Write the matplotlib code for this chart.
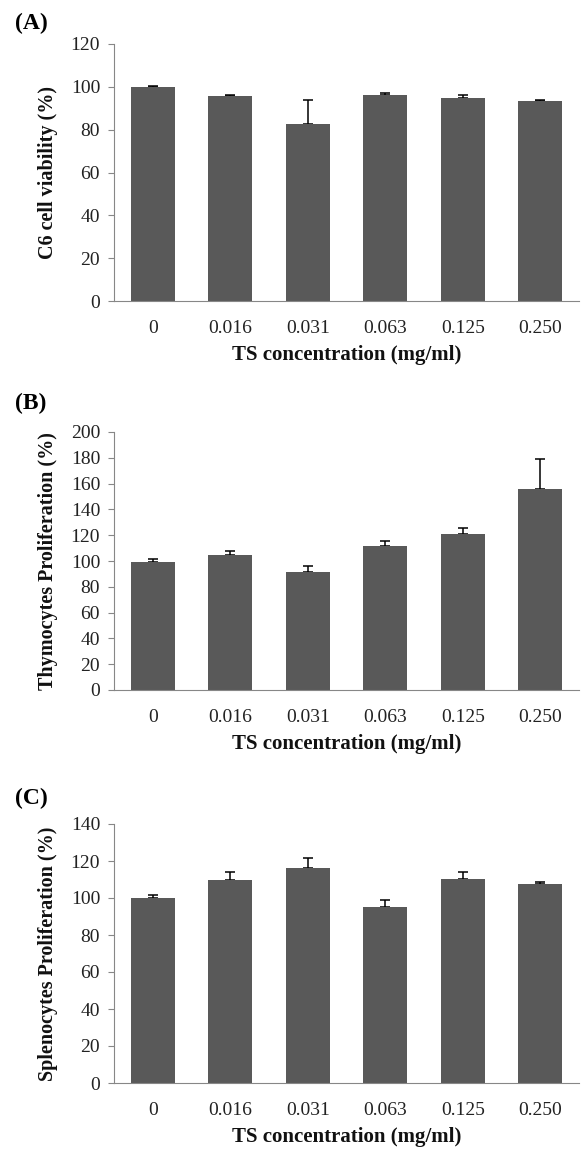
import matplotlib
matplotlib.use("Agg")
import matplotlib.pyplot as plt

plt.rcParams['font.family'] = ['Liberation Serif', 'DejaVu Serif']

conc = ["0", "0.016", "0.031", "0.063", "0.125", "0.250"]

# (A) C6 cell viability
viab = [99.8, 95.7, 82.5, 96.4, 94.7, 93.2]
viab_err = [0.5, 0.4, 11.3, 0.5, 1.4, 0.6]

# (B) thymocytes proliferation
thym = [99.6, 105.0, 91.3, 112.0, 121.3, 156.0]
thym_err = [2.1, 2.4, 4.9, 3.7, 3.9, 23.0]

# (C) splenocytes proliferation
sple = [100.1, 109.5, 116.3, 95.4, 110.5, 107.8]
sple_err = [1.4, 4.7, 5.4, 3.4, 3.7, 0.6]

panels = [
    ("(A)", viab, viab_err, "C6 cell viability (%)", 120, 20, 44, 301, 23),
    ("(B)", thym, thym_err, "Thymocytes Proliferation (%)", 200, 20, 432, 690, 403),
    ("(C)", sple, sple_err, "Splenocytes Proliferation (%)", 140, 20, 824, 1083, 798),
]

W, H = 583, 1152
fig = plt.figure(figsize=(W / 100, H / 100), dpi=100)

left, right = 114, 579
for tag, vals, errs, ylab, ymax, step, top, bottom, tag_y in panels:
    ax = fig.add_axes([left / W, 1 - bottom / H, (right - left) / W, (bottom - top) / H])
    x = range(len(conc))
    ax.bar(x, vals, width=0.57, color="#595959", zorder=2)
    ax.errorbar(x, vals, yerr=[[0] * len(errs), errs], fmt="none", ecolor="black",
                elinewidth=1.1, capsize=3.5, capthick=1.1, zorder=1)
    ax.set_xlim(-0.5, 5.5)
    ax.set_ylim(0, ymax)
    ax.set_yticks(range(0, ymax + 1, step))
    ax.set_xticks(list(x))
    ax.set_xticklabels(conc)
    for s in ["top", "right"]:
        ax.spines[s].set_visible(False)
    for s in ["left", "bottom"]:
        ax.spines[s].set_color("#878787")
        ax.spines[s].set_linewidth(0.8)
    ax.tick_params(axis="y", direction="out", length=4, width=0.8, color="#878787",
                   labelsize=14, labelcolor="#222222", pad=6)
    ax.tick_params(axis="x", length=0, labelsize=14, labelcolor="#222222", pad=14)

    ax.set_ylabel(ylab, fontsize=14.5, fontweight="bold", color="#111111")
    ax.yaxis.label.set_va("center")
    ax.yaxis.set_label_coords(-66 / (right - left), 0.5)
    ax.set_xlabel("TS concentration (mg/ml)", fontsize=15, fontweight="bold", color="#111111")
    ax.xaxis.label.set_va("center")
    ax.xaxis.set_label_coords(0.5, -54 / (bottom - top))

    fig.text(15 / W, 1 - tag_y / H, tag, fontsize=17, fontweight="bold", va="center", ha="left")

plt.savefig("out.png", dpi=100)
